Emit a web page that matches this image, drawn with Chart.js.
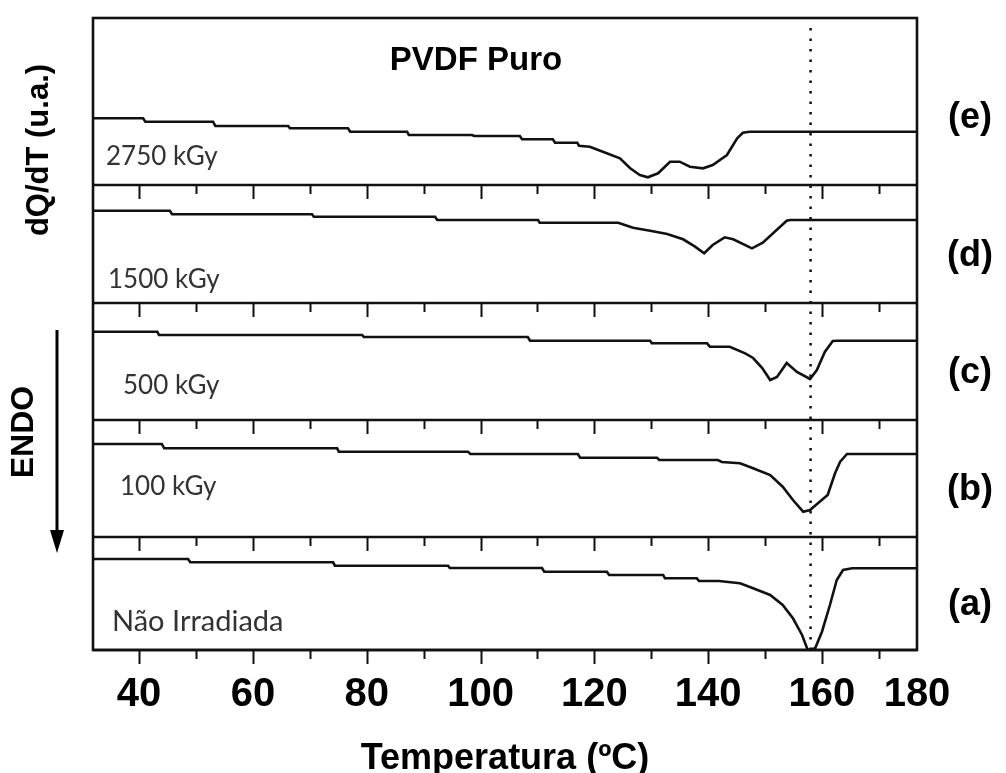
<!DOCTYPE html>
<html>
<head>
<meta charset="utf-8">
<script src="https://cdn.jsdelivr.net/npm/chart.js@4.4.1/dist/chart.umd.min.js"></script>
<style>
  html, body { margin: 0; padding: 0; background: #fff; }
</style>
</head>
<body>
<canvas id="dsc" width="1006" height="773"></canvas>
<script>
// DSC curves of pure PVDF, dQ/dT in arbitrary units, one panel per dose
const samples = ['Não Irradiada', '100 kGy', '500 kGy', '1500 kGy', '2750 kGy'];
const panelLetters = ['(a)', '(b)', '(c)', '(d)', '(e)'];
const majorTicks = [40, 60, 80, 100, 120, 140, 160];
const minorTicks = [50, 70, 90, 110, 130, 150, 170];
const tickLabels = ['40', '60', '80', '100', '120', '140', '160', '180'];
const meltPeak = 158;

const tempA = [31.9, 48.6, 49.0, 74.1, 74.4, 94.3, 94.6, 110.8, 111.2, 122.2, 122.6, 132.1, 132.4, 138.0, 138.4, 141.9, 145.6, 147.9, 150.9, 153.1, 154.9, 156.5, 157.5, 158.8, 160.0, 161.4, 162.6, 163.7, 165.3, 176.7];
const flowA = [91, 91, 87.7, 87.7, 84.3, 84.3, 82, 82, 78.3, 78.3, 75, 75, 71.7, 71.7, 69, 69, 66.7, 61.7, 55, 45, 31.7, 15, 0, 1.7, 18.3, 45, 70, 80, 81.7, 81.7];

const tempB = [31.9, 44.0, 44.4, 74.8, 75.1, 97.8, 98.2, 117.1, 117.5, 131.0, 131.4, 141.7, 142.4, 145.6, 147.9, 150.9, 153.1, 154.9, 156.7, 157.9, 159.6, 161.0, 162.3, 163.2, 164.4, 176.7];
const flowB = [93, 93, 88.7, 88.7, 85.3, 85.3, 83, 83, 79.3, 79.3, 77, 77, 75, 73.7, 68.7, 62, 50.3, 37, 25.3, 27, 35.3, 42, 63.7, 75.3, 83, 83];

const tempC = [31.9, 43.2, 43.5, 79.2, 79.5, 108.3, 108.7, 129.8, 130.1, 139.8, 140.3, 143.8, 146.5, 147.9, 149.5, 150.9, 152.1, 153.8, 155.6, 157.9, 159.1, 160.5, 161.9, 162.8, 176.7];
const flowC = [88.3, 88.3, 85, 85, 83, 83, 79.3, 79.3, 76.7, 76.7, 73.3, 73.3, 66.7, 62, 52, 40, 43, 57, 48, 41, 50, 68, 79, 79.3, 79.3];

const tempD = [31.9, 45.4, 45.8, 70.4, 70.7, 92.0, 92.4, 110.1, 110.4, 124.2, 126.8, 129.8, 132.8, 135.6, 137.7, 139.3, 140.8, 142.9, 144.4, 147.7, 149.6, 153.8, 154.4, 176.7];
const flowD = [92.3, 92.3, 88.7, 88.7, 86.3, 86.3, 83, 83, 80.3, 80.3, 75.3, 72.3, 69, 63.7, 56.3, 49.7, 58, 65.7, 63.7, 54.7, 60.3, 82.3, 83, 83];

const tempE = [31.9, 40.7, 41.1, 53.0, 53.4, 66.2, 66.5, 76.7, 77.1, 87.1, 87.4, 98.5, 98.9, 106.9, 107.3, 112.7, 113.1, 117.0, 117.3, 119.2, 121.5, 124.5, 126.3, 128.0, 129.4, 131.2, 133.3, 135.0, 136.8, 139.1, 140.8, 143.3, 145.1, 146.1, 147.3, 176.7];
const flowE = [66.7, 66.7, 63.3, 63.3, 59, 59, 56.7, 56.7, 53.3, 53.3, 50, 50, 49, 49, 45.7, 45.7, 42.3, 42.3, 39.3, 38.3, 33.3, 26.7, 16.7, 10, 7.7, 11.7, 23.3, 23.3, 18.3, 16.7, 20, 30, 46.7, 52.3, 53.3, 53.3];

const temps = [tempA, tempB, tempC, tempD, tempE];
const flows = [flowA, flowB, flowC, flowD, flowE];
const panelIds = ['yA', 'yB', 'yC', 'yD', 'yE'];
const panelSpan = [113, 117, 117, 118, 167];   // y range of each panel (u.a.)

const SANS = '"Liberation Sans", Arial, sans-serif';
const INK = '#111';

const datasets = samples.map((name, i) => ({
  label: name,
  yAxisID: panelIds[i],
  data: temps[i].map((t, k) => ({ x: t, y: flows[i][k] })),
  borderColor: INK,
  borderWidth: 2.6,
  pointRadius: 0,
  tension: 0,
  fill: false
}));

const scales = {
  x: {
    type: 'linear',
    position: 'bottom',
    min: 31.9,
    max: 176.7,
    grid: { display: false },
    border: { display: false },
    afterBuildTicks: (scale) => {
      scale.ticks = majorTicks.map(v => ({ value: v })).concat([{ value: scale.max }]);
    },
    afterFit: (scale) => { scale.height = 123; },
    ticks: {
      autoSkip: false,
      maxRotation: 0,
      padding: 13,
      color: '#000',
      font: { family: SANS, size: 40, weight: 'bold' },
      callback: (value, index) => tickLabels[index]
    },
    title: {
      display: true,
      text: 'Temperatura (ºC)',
      color: '#000',
      font: { family: SANS, size: 36, weight: 'bold', lineHeight: 0.8 },
      padding: { top: 0, bottom: 0 }
    }
  }
};
panelIds.forEach((id, i) => {
  scales[id] = {
    type: 'linear',
    display: false,
    position: 'left',
    stack: 'panels',
    stackWeight: panelSpan[i],
    weight: i + 1,
    min: 0,
    max: panelSpan[i]
  };
});

// frame, dividers, tick marks, dotted reference line and annotations
const decor = {
  id: 'decor',
  afterDatasetsDraw(chart) {
    const { ctx, chartArea: a, scales: s } = chart;
    const x = s.x;
    ctx.save();
    ctx.strokeStyle = INK;
    ctx.lineCap = 'butt';

    // dotted line at the melting peak
    const xm = x.getPixelForValue(meltPeak);
    ctx.lineWidth = 2.5;
    ctx.setLineDash([2.5, 8]);
    ctx.beginPath();
    ctx.moveTo(xm, a.top + 10);
    ctx.lineTo(xm, a.bottom);
    ctx.stroke();
    ctx.setLineDash([]);

    ctx.lineWidth = 2.6;
    ctx.strokeRect(a.left, a.top, a.right - a.left, a.bottom - a.top);
    panelIds.forEach((id) => {
      const sc = s[id];
      ctx.lineWidth = 2.6;
      ctx.beginPath();
      ctx.moveTo(a.left, sc.bottom);
      ctx.lineTo(a.right, sc.bottom);
      ctx.stroke();
      ctx.lineWidth = 2;
      ctx.beginPath();
      majorTicks.forEach(v => {
        const px = Math.round(x.getPixelForValue(v)) + 0.5;
        ctx.moveTo(px, sc.bottom);
        ctx.lineTo(px, sc.bottom + 14);
      });
      minorTicks.forEach(v => {
        const px = Math.round(x.getPixelForValue(v)) + 0.5;
        ctx.moveTo(px, sc.bottom);
        ctx.lineTo(px, sc.bottom + 9);
      });
      ctx.stroke();
    });
    ctx.restore();
  },
  afterDraw(chart) {
    const { ctx, chartArea: a, scales: s } = chart;
    ctx.save();
    ctx.fillStyle = '#000';

    // title
    ctx.font = 'bold 33px ' + SANS;
    ctx.textAlign = 'center';
    ctx.textBaseline = 'alphabetic';
    ctx.fillText('PVDF Puro', 476, 70);

    // sample names and panel letters
    const nameAnchor = [[112, 19], [120, 42], [123, 26], [108, 15], [106, 20]];
    panelIds.forEach((id, i) => {
      const sc = s[id];
      ctx.fillStyle = '#333';
      ctx.textAlign = 'left';
      ctx.font = (i === 0 ? '29px' : '26px') + ' Lato, "Open Sans", sans-serif';
      ctx.fillText(samples[i], nameAnchor[i][0], sc.bottom - nameAnchor[i][1]);
      ctx.fillStyle = '#000';
      ctx.textAlign = 'center';
      ctx.textBaseline = 'middle';
      ctx.font = 'bold 36px ' + SANS;
      ctx.fillText(panelLetters[i], 970, sc.top + (sc.bottom - sc.top) * 0.6);
      ctx.textBaseline = 'alphabetic';
    });

    // y label and ENDO arrow
    ctx.fillStyle = '#000';
    ctx.textAlign = 'center';
    ctx.textBaseline = 'middle';
    ctx.save();
    ctx.translate(39, 150);
    ctx.rotate(-Math.PI / 2);
    ctx.font = 'bold 31px ' + SANS;
    ctx.fillText('dQ/dT (u.a.)', 0, 0);
    ctx.restore();
    ctx.save();
    ctx.translate(24, 432);
    ctx.rotate(-Math.PI / 2);
    ctx.font = 'bold 32px ' + SANS;
    ctx.fillText('ENDO', 0, 0);
    ctx.restore();

    ctx.strokeStyle = '#000';
    ctx.lineWidth = 3;
    ctx.beginPath();
    ctx.moveTo(57, 330);
    ctx.lineTo(57, 534);
    ctx.stroke();
    ctx.beginPath();
    ctx.moveTo(50, 530);
    ctx.lineTo(64, 530);
    ctx.lineTo(57, 553);
    ctx.closePath();
    ctx.fill();
    ctx.restore();
  }
};

new Chart(document.getElementById('dsc'), {
  type: 'line',
  data: { datasets },
  options: {
    responsive: false,
    animation: false,
    layout: { padding: { top: 18, left: 93, right: 89, bottom: 0 } },
    plugins: { legend: { display: false }, tooltip: { enabled: false } },
    scales
  },
  plugins: [decor]
});
</script>
</body>
</html>
